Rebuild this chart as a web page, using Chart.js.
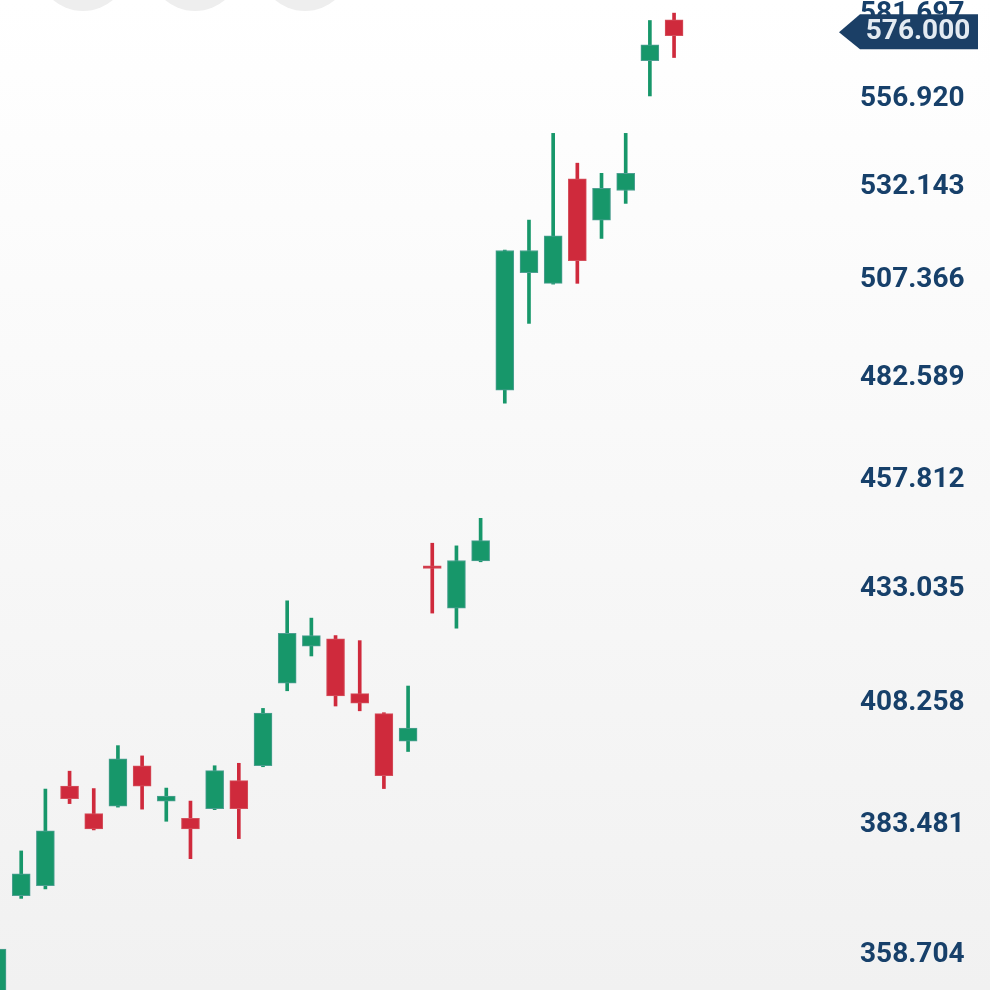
<!DOCTYPE html>
<html>
<head>
<meta charset="utf-8">
<script src="https://cdn.jsdelivr.net/npm/chart.js@4.4.1/dist/chart.umd.min.js"></script>
<style>
  html, body { margin: 0; padding: 0; background: #fafafa; }
  #wrap { width: 990px; height: 990px; position: relative; }
</style>
</head>
<body>
<div id="wrap"><canvas id="candles"></canvas></div>
<script>
// candle values (oldest first)
const opens  = [349.0, 369.3, 371.2, 390.7, 385.2, 386.7, 394.8, 387.7, 384.3, 386.2,
                391.8, 394.8, 411.9, 419.8, 421.4, 409.7, 405.5, 399.8, 437.5, 428.1,
                438.6, 478.8, 508.6, 505.8, 533.7, 522.5, 530.5, 567.1, 579.1];
const highs  = [359.3, 377.9, 390.1, 393.7, 390.2, 398.9, 396.8, 390.3, 387.7, 394.8,
                395.3, 406.6, 429.7, 425.9, 422.1, 421.0, 405.7, 411.3, 442.6, 442.0,
                448.3, 514.5, 522.5, 546.3, 538.0, 535.2, 546.3, 578.9, 581.1];
const lows   = [348.5, 368.8, 370.6, 387.2, 382.0, 386.5, 386.1, 383.7, 376.4, 386.0,
                380.3, 394.6, 410.3, 417.7, 407.1, 406.1, 390.2, 397.7, 427.0, 423.7,
                438.4, 475.6, 495.5, 505.6, 505.8, 517.6, 527.0, 556.9, 568.0];
const closes = [359.3, 373.5, 381.8, 388.2, 382.2, 396.2, 390.7, 388.7, 382.2, 393.8,
                386.2, 405.6, 422.6, 422.1, 409.2, 407.7, 392.8, 402.5, 436.9, 438.7,
                443.2, 514.4, 514.4, 518.3, 511.7, 531.1, 535.2, 571.7, 574.4];

const tickValues = [358.704, 383.481, 408.258, 433.035, 457.812,
                    482.589, 507.366, 532.143, 556.920, 581.697];
const lastPrice = 576.000;

const UP = '#17976a';
const DOWN = '#cf2a3c';

const candleColors = opens.map((o, i) => closes[i] >= o ? UP : DOWN);
const edgeColors = opens.map((o, i) => closes[i] >= o ? '#4e9f92' : '#d4505c');

const backdrop = {
  id: 'backdrop',
  beforeDraw(chart) {
    const { ctx, width, height } = chart;
    ctx.save();
    const g = ctx.createLinearGradient(0, 0, 0, height);
    g.addColorStop(0, '#ffffff');
    g.addColorStop(1, '#f1f1f1');
    ctx.fillStyle = g;
    ctx.fillRect(0, 0, width, height);
    // the round buttons peeking in at the top
    ctx.fillStyle = '#eeeeee';
    [83, 195, 305].forEach(cx => {
      ctx.beginPath();
      ctx.arc(cx, -35, 46, 0, Math.PI * 2);
      ctx.fill();
    });
    ctx.restore();
  }
};

const priceTag = {
  id: 'priceTag',
  afterDraw(chart) {
    const { ctx } = chart;
    const y = chart.scales.y.getPixelForValue(lastPrice) + 2;
    ctx.save();
    ctx.fillStyle = '#1b3f66';
    ctx.beginPath();
    ctx.moveTo(839, y);
    ctx.lineTo(860, y - 18);
    ctx.lineTo(978, y - 18);
    ctx.lineTo(978, y + 17);
    ctx.lineTo(860, y + 17);
    ctx.closePath();
    ctx.fill();
    ctx.fillStyle = '#e4ebf2';
    ctx.font = 'bold 28px Roboto';
    ctx.textAlign = 'center';
    ctx.textBaseline = 'middle';
    ctx.fillText(lastPrice.toFixed(3), 918, y);
    ctx.restore();
  }
};

const ctx = document.getElementById('candles');

new Chart(ctx, {
  type: 'bar',
  data: {
    datasets: [
      {
        label: 'body',
        data: opens.map((o, i) => ({ x: i, y: [o, closes[i]] })),
        backgroundColor: candleColors,
        borderColor: edgeColors,
        borderWidth: 1,
        borderSkipped: false,
        barThickness: 18,
        minBarLength: 2,
        grouped: false,
        order: 0
      },
      {
        label: 'wick',
        data: lows.map((l, i) => ({ x: i, y: [l, highs[i]] })),
        backgroundColor: candleColors,
        borderWidth: 0,
        barThickness: 3,
        grouped: false,
        order: 1
      }
    ]
  },
  options: {
    responsive: true,
    maintainAspectRatio: false,
    animation: false,
    layout: { padding: 0, autoPadding: false },
    plugins: {
      legend: { display: false },
      tooltip: { enabled: false }
    },
    scales: {
      x: {
        type: 'linear',
        display: false,
        offset: false,
        bounds: 'data',
        min: 0.123,
        max: 35.69
      },
      y: {
        type: 'logarithmic',
        position: 'right',
        bounds: 'data',
        min: 351.85,
        max: 585.03,
        grid: { display: false, drawTicks: false },
        border: { display: false },
        afterBuildTicks: scale => {
          scale.ticks = tickValues.map(v => ({ value: v }));
        },
        afterFit: scale => {
          // labels may hang over the top/bottom edge, like in the app
          scale.width = 130;
          scale.paddingTop = 0;
          scale.paddingBottom = 0;
        },
        ticks: {
          padding: 0,
          labelOffset: 3,
          autoSkip: false,
          color: '#17406a',
          font: { family: 'Roboto', size: 28, weight: 'bold' },
          callback: v => Number(v).toFixed(3)
        }
      }
    }
  },
  plugins: [backdrop, priceTag]
});
</script>
</body>
</html>
